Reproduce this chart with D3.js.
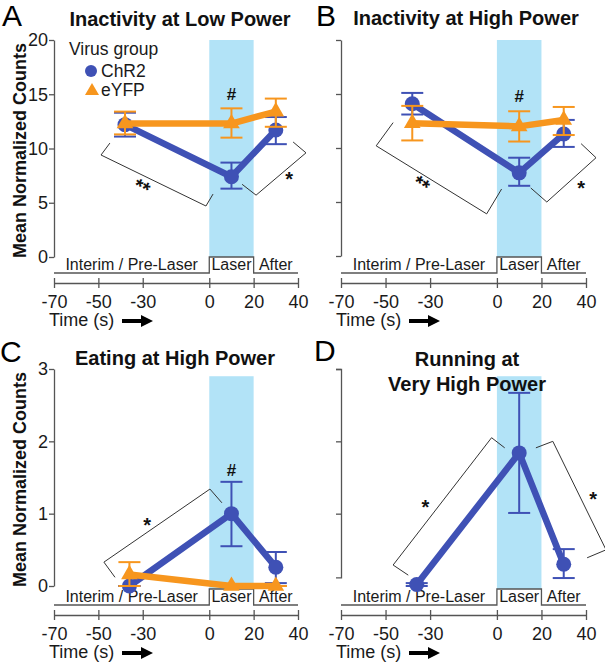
<!DOCTYPE html>
<html><head><meta charset="utf-8">
<script src="https://cdn.jsdelivr.net/npm/d3@7"></script>
<style>body{margin:0;background:#fff}svg{display:block;font-family:"Liberation Sans",Arial,Helvetica,sans-serif}</style>
</head><body><svg id="c" width="605" height="664"></svg>
<script>
// ---------- data ----------
const timeTicks = [-70, -50, -30, 0, 20, 40];
const periodLabels = ["Interim / Pre-Laser", "Laser", "After"];
const laserWindow = [0, 20];
const timesTop = [-38, 10, 30];
const timesBottom = [-36, 10, 30];
const yTicksTop = [0, 5, 10, 15, 20];
const yTicksBottom = [0, 1, 2, 3];
const yTicksD = [1, 2, 3];
const seriesNames = ["ChR2", "eYFP"];

const chr2A = [12.2, 7.4, 11.7];
const chr2A_lo = [11.1, 6.3, 10.4];
const chr2A_hi = [13.3, 8.7, 12.9];
const eyfpA = [12.3, 12.3, 13.4];
const eyfpA_lo = [11.3, 11.0, 12.0];
const eyfpA_hi = [13.4, 13.7, 14.6];

const chr2B = [14.1, 7.7, 11.3];
const chr2B_lo = [13.1, 6.5, 10.1];
const chr2B_hi = [15.1, 9.1, 12.6];
const eyfpB = [12.3, 12.0, 12.6];
const eyfpB_lo = [10.7, 10.6, 11.2];
const eyfpB_hi = [13.9, 13.4, 13.8];

const chr2C = [0.0, 1.0, 0.26];
const chr2C_lo = [0.0, 0.55, 0.04];
const chr2C_hi = [0.0, 1.44, 0.47];
const eyfpC = [0.16, 0.0, 0.0];
const eyfpC_lo = [0.0, 0.0, 0.0];
const eyfpC_hi = [0.33, 0.0, 0.0];

const chr2D = [0.02, 1.84, 0.30];
const chr2D_lo = [0.0, 1.01, 0.11];
const chr2D_hi = [0.04, 2.67, 0.51];

// significance brackets [time, value]
const bracketsA = [[[-44.8,10.5],[-48.8,9.4],[-1.5,4.7],[1.7,5.8]], [[14.8,6.7],[21.1,5.7],[43.6,9.6],[37.8,10.6]]];
const bracketsB = [[[-46.6,12.35],[-54.2,10.2],[-4.6,3.9],[2.1,6.2]], [[15.2,6.3],[22.4,5.0],[44.5,9.1],[37.8,10.4]]];
const bracketsC = [[[-42.5,0.12],[-47.5,0.33],[0.3,1.34],[5.7,1.15]]];
const bracketsD = [[[-39.8,0.15],[-46.6,0.29],[-2.4,2.05],[3.5,1.91]], [[17.5,1.91],[25.1,2.0],[49,0.5],[40.5,0.39]]];
// star labels [time, value, text, angle]
const starsA = [[-30, 6.6, "**", 26], [36, 7.4, "*", 0]];
const starsB = [[-33.5, 6.8, "**", 32], [37.8, 6.5, "*", 0]];
const starsC = [[-28, 0.87, "*", 0]];
const starsD = [[-32.1, 1.12, "*", 0], [43.2, 1.23, "*", 0]];
const hashA = [10, 15.0], hashB = [10, 14.8], hashC = [10, 1.6];

// ---------- style ----------
const BLUE = "#3f51b5", ORANGE = "#f7961e", SHADE = "#b2e3f7", AXIS = "#555", TXT = "#1a1a1a";

const svg = d3.select("#c");

const panels = [
  {letter:"A", lx:2, ly:26, title:["Inactivity at Low Power"], tx:180, ty:[26], xr:[54,298], yd:[0,20], yr:[257,40], axisY:283,
   yTicks:yTicksTop, yLabels:true, shadeTop:20, times:timesTop,
   series:[{m:chr2A,lo:chr2A_lo,hi:chr2A_hi,c:BLUE,s:"circle"},{m:eyfpA,lo:eyfpA_lo,hi:eyfpA_hi,c:ORANGE,s:"tri"}],
   brackets:bracketsA, stars:starsA, hash:hashA, legend:true, ylab:true},
  {letter:"B", lx:316, ly:26, title:["Inactivity at High Power"], tx:466, ty:[25], xr:[341,586], yd:[0,20], yr:[256,40], axisY:283,
   yTicks:yTicksTop, yLabels:false, shadeTop:20, times:timesTop,
   series:[{m:chr2B,lo:chr2B_lo,hi:chr2B_hi,c:BLUE,s:"circle"},{m:eyfpB,lo:eyfpB_lo,hi:eyfpB_hi,c:ORANGE,s:"tri"}],
   brackets:bracketsB, stars:starsB, hash:hashB},
  {letter:"C", lx:0, ly:362, title:["Eating at High Power"], tx:175, ty:[365], xr:[54,298], yd:[0,3], yr:[586,369], axisY:615,
   yTicks:yTicksBottom, yLabels:true, shadeTop:2.9, times:timesBottom,
   series:[{m:chr2C,lo:chr2C_lo,hi:chr2C_hi,c:BLUE,s:"circle"},{m:eyfpC,lo:eyfpC_lo,hi:eyfpC_hi,c:ORANGE,s:"tri"}],
   brackets:bracketsC, stars:starsC, hash:hashC, ylab:true},
  {letter:"D", lx:314, ly:361, title:["Running at","Very High Power"], tx:467, ty:[366,391], xr:[341,586], yd:[0,3], yr:[586,369], axisY:615,
   yTicks:yTicksD, yLabels:false, axisFrom:0.12, shadeTop:2.9, times:timesBottom,
   series:[{m:chr2D,lo:chr2D_lo,hi:chr2D_hi,c:BLUE,s:"circle"}],
   brackets:bracketsD, stars:starsD, hash:null}
];

panels.forEach(p => {
  const g = svg.append("g");
  const x = d3.scaleLinear().domain([timeTicks[0], timeTicks[timeTicks.length-1]]).range(p.xr);
  const y = d3.scaleLinear().domain(p.yd).range(p.yr);
  const catY = p.axisY - 10, boxTop = p.axisY - 26;

  // laser shading
  g.append("rect").attr("x", x(laserWindow[0])).attr("width", x(laserWindow[1]) - x(laserWindow[0]))
    .attr("y", y(p.shadeTop)).attr("height", boxTop - y(p.shadeTop)).attr("fill", SHADE);

  // y axis
  const a0 = p.axisFrom !== undefined ? p.axisFrom : p.yd[0];
  const ys = d3.scaleLinear().domain([a0, p.yd[1]]).range([y(a0), y(p.yd[1])]);
  const yAxis = d3.axisLeft(ys).tickValues(p.yTicks).tickSizeInner(5).tickSizeOuter(p.axisFrom !== undefined ? 5 : 0).tickPadding(1)
    .tickFormat(p.yLabels ? (d => String(d)) : () => "");
  const yg = g.append("g").attr("transform", `translate(${x(timeTicks[0])},0)`).call(yAxis);
  yg.select(".domain").attr("stroke", AXIS).attr("stroke-width", 1.3);
  yg.selectAll(".tick line").attr("stroke", AXIS).attr("stroke-width", 1.3);
  yg.selectAll("text").attr("font-size", 18).attr("fill", TXT).attr("font-family", "Liberation Sans, Arial, sans-serif");

  // time axis
  const xAxis = d3.axisBottom(x).tickValues(timeTicks).tickSizeInner(5).tickSizeOuter(0).tickPadding(7).tickFormat(d => String(d));
  const xg = g.append("g").attr("transform", `translate(0,${p.axisY})`).call(xAxis);
  xg.select(".domain").attr("stroke", AXIS).attr("stroke-width", 1.3);
  xg.selectAll(".tick line").attr("y1", -5).attr("y2", 5).attr("stroke", AXIS).attr("stroke-width", 1.3);
  xg.selectAll("text").attr("font-size", 18).attr("fill", TXT).attr("font-family", "Liberation Sans, Arial, sans-serif");

  // period band
  const bandPath = d3.path();
  bandPath.moveTo(x(timeTicks[0]), catY); bandPath.lineTo(x(laserWindow[0]), catY);
  bandPath.lineTo(x(laserWindow[0]), boxTop); bandPath.lineTo(x(laserWindow[1]), boxTop);
  bandPath.lineTo(x(laserWindow[1]), catY); bandPath.lineTo(x(timeTicks[timeTicks.length-1]), catY);
  g.append("path").attr("d", bandPath.toString()).attr("fill", "none").attr("stroke", AXIS).attr("stroke-width", 1.3);
  const bounds = [[timeTicks[0], laserWindow[0]], laserWindow, [laserWindow[1], timeTicks[timeTicks.length-1]]];
  periodLabels.forEach((t, i) => {
    g.append("text").attr("x", (x(bounds[i][0]) + x(bounds[i][1])) / 2).attr("y", catY - 3)
      .attr("text-anchor", "middle").attr("font-size", 16).attr("fill", TXT).text(t);
  });

  // Time label with arrow
  const tx0 = x(timeTicks[0]) - 5;
  g.append("text").attr("x", tx0).attr("y", p.axisY + 43).attr("font-size", 18).attr("fill", TXT).text("Time (s)");
  g.append("line").attr("x1", tx0 + 73).attr("x2", tx0 + 94).attr("y1", p.axisY + 38).attr("y2", p.axisY + 38)
    .attr("stroke", "#000").attr("stroke-width", 4);
  g.append("path").attr("d", `M${tx0+92},${p.axisY+32}L${tx0+104},${p.axisY+38}L${tx0+92},${p.axisY+44}Z`).attr("fill", "#000");

  // brackets
  p.brackets.forEach(b => {
    g.append("path").attr("d", d3.line().x(d => x(d[0])).y(d => y(d[1]))(b))
      .attr("fill", "none").attr("stroke", "#333").attr("stroke-width", 1);
  });
  p.stars.forEach(s => {
    g.append("text").attr("transform", `translate(${x(s[0])},${y(s[1])}) rotate(${s[3]})`)
      .attr("y", 9).attr("text-anchor", "middle").attr("font-size", 20).attr("font-weight", "bold").attr("fill", "#111").text(s[2]);
  });
  if (p.hash) {
    g.append("text").attr("x", x(p.hash[0])).attr("y", y(p.hash[1]) + 6).attr("text-anchor", "middle")
      .attr("font-size", 17).attr("font-weight", "bold").attr("fill", "#111").text("#");
  }

  // series
  p.series.forEach(s => {
    const pts = p.times.map((t, i) => ({t, m: s.m[i], lo: s.lo[i], hi: s.hi[i]}));
    g.append("path").attr("d", d3.line().x(d => x(d.t)).y(d => y(d.m))(pts))
      .attr("fill", "none").attr("stroke", s.c).attr("stroke-width", 6.5).attr("stroke-linejoin", "round");
    const eb = g.append("g").attr("stroke", s.c).attr("stroke-width", 2);
    pts.forEach(d => {
      eb.append("line").attr("x1", x(d.t)).attr("x2", x(d.t)).attr("y1", y(d.lo)).attr("y2", y(d.hi));
      eb.append("line").attr("x1", x(d.t) - 11).attr("x2", x(d.t) + 11).attr("y1", y(d.lo)).attr("y2", y(d.lo));
      eb.append("line").attr("x1", x(d.t) - 11).attr("x2", x(d.t) + 11).attr("y1", y(d.hi)).attr("y2", y(d.hi));
    });
    pts.forEach(d => {
      if (s.s === "circle") {
        g.append("circle").attr("cx", x(d.t)).attr("cy", y(d.m)).attr("r", 7.5).attr("fill", s.c);
      } else {
        g.append("path").attr("d", d3.symbol(d3.symbolTriangle, 120)()).attr("transform", `translate(${x(d.t)},${y(d.m)})`).attr("fill", s.c);
      }
    });
  });

  // title
  p.title.forEach((t, i) => {
    g.append("text").attr("x", p.tx).attr("y", p.ty[i]).attr("text-anchor", "middle")
      .attr("font-size", 20).attr("font-weight", "bold").attr("fill", "#111").text(t);
  });
  // panel letter
  g.append("text").attr("x", p.lx).attr("y", p.ly).attr("font-size", 30).attr("fill", "#000").text(p.letter);

  // y label
  if (p.ylab) {
    g.append("text").attr("transform", `translate(26,${(p.yr[0] + p.yr[1]) / 2 + 2}) rotate(-90)`)
      .attr("text-anchor", "middle").attr("font-size", 18).attr("font-weight", "bold").attr("fill", "#111")
      .text("Mean Normalized Counts");
  }

  // legend
  if (p.legend) {
    g.append("text").attr("x", 69).attr("y", 55).attr("font-size", 17.5).attr("fill", TXT).text("Virus group");
    g.append("circle").attr("cx", 91).attr("cy", 71).attr("r", 6).attr("fill", BLUE);
    g.append("text").attr("x", 101).attr("y", 77).attr("font-size", 17.5).attr("fill", TXT).text(seriesNames[0]);
    g.append("path").attr("d", d3.symbol(d3.symbolTriangle, 85)()).attr("transform", "translate(92,91)").attr("fill", ORANGE);
    g.append("text").attr("x", 101).attr("y", 96).attr("font-size", 17.5).attr("fill", TXT).text(seriesNames[1]);
  }
});
</script></body></html>
